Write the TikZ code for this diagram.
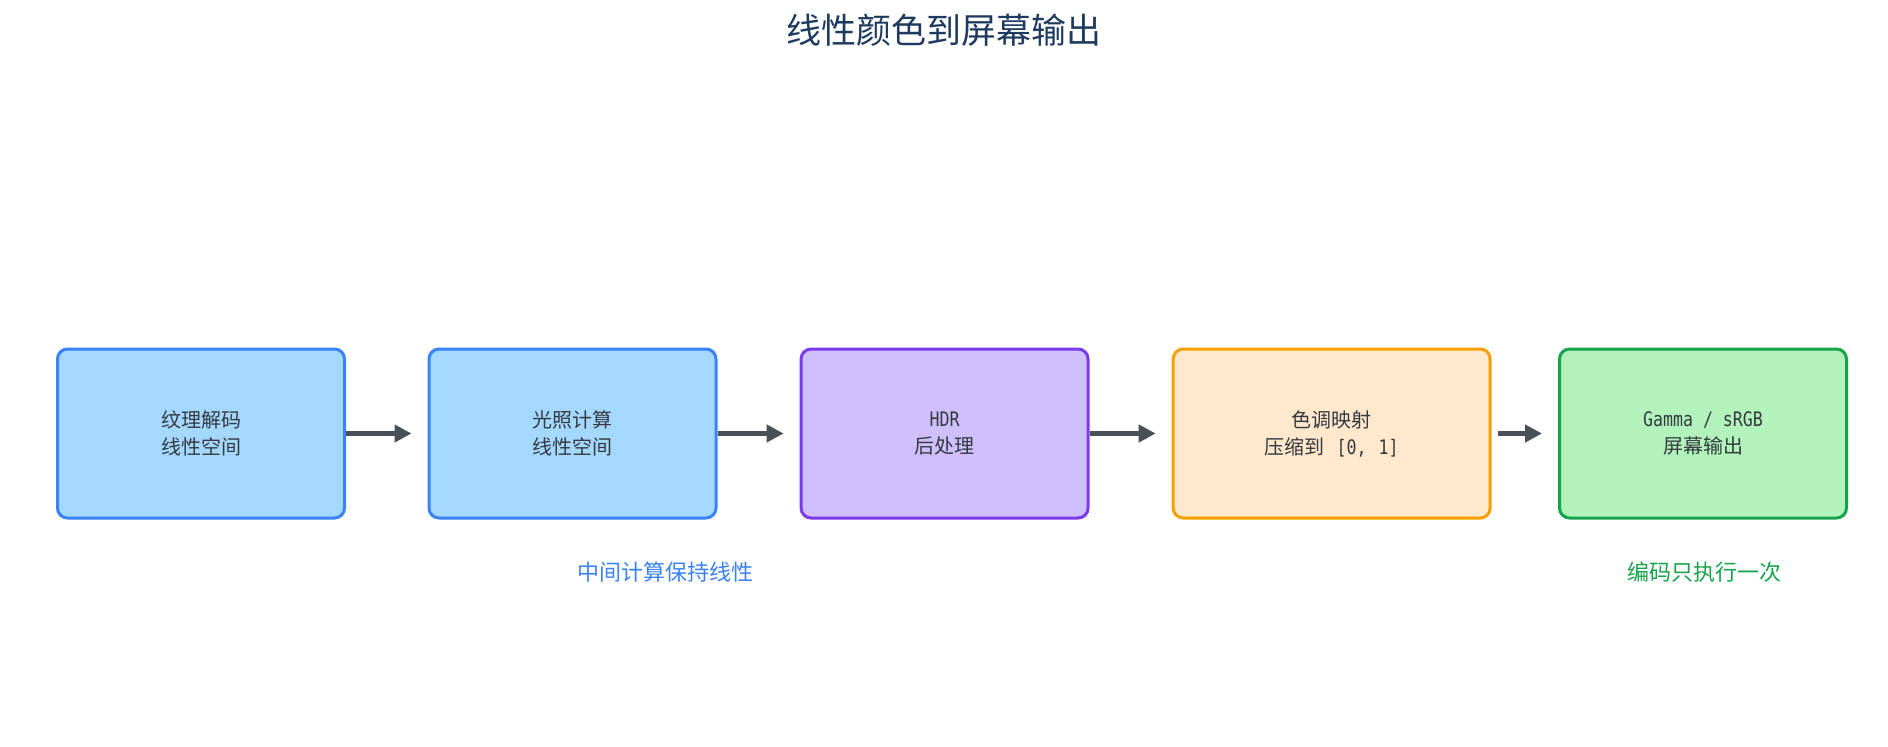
\documentclass[tikz,border=0pt]{standalone}
\usepackage{fontspec}
\setmainfont{Noto Sans CJK SC}
\newfontfamily\monof[FakeStretch=0.83]{DejaVu Sans Mono}
\usetikzlibrary{arrows.meta}
\definecolor{titlec}{HTML}{1E3A5F}
\definecolor{textc}{HTML}{343A40}
\definecolor{arrowc}{HTML}{495057}
\definecolor{bluefill}{HTML}{A5D8FF}
\definecolor{bluedraw}{HTML}{3B82F6}
\definecolor{purpfill}{HTML}{D0BFFF}
\definecolor{purpdraw}{HTML}{7C3AED}
\definecolor{orfill}{HTML}{FFE8CC}
\definecolor{ordraw}{HTML}{F59F00}
\definecolor{grfill}{HTML}{B2F2BB}
\definecolor{grdraw}{HTML}{16A34A}
\tikzset{
  stagebox/.style={draw, line width=3pt, rounded corners=10pt, minimum width=287pt,
    minimum height=169pt, align=center, text=textc, inner sep=0pt,
    font=\fontsize{20}{27}\selectfont},
  flowarrow/.style={arrowc, line width=4.8pt, -{Triangle[length=17pt,width=17pt]}, shorten >=16pt},
  notelabel/.style={font=\fontsize{22}{26}\selectfont, inner sep=0pt},
}
\begin{document}
\begin{tikzpicture}[x=1pt,y=-1pt]
\useasboundingbox[fill=white] (0,0) rectangle (1888,747);
\node[font=\fontsize{35}{40}\selectfont, text=titlec] (title) at (944,30) {线性颜色到屏幕输出};
\node[stagebox, fill=bluefill, draw=bluedraw] (b1) at (201,433.5) {纹理解码\\线性空间};
\node[stagebox, fill=bluefill, draw=bluedraw] (b2) at (572.5,433.5) {光照计算\\线性空间};
\node[stagebox, fill=purpfill, draw=purpdraw] (b3) at (944.6,433.5) {{\monof HDR}\\后处理};
\node[stagebox, fill=orfill, draw=ordraw, minimum width=317pt] (b4) at (1331.7,433.5) {色调映射\\压缩到\hspace{12pt}{\monof [0,\hspace{12pt}1]}};
\node[stagebox, fill=grfill, draw=grdraw] (b5) at (1703,433.5) {{\monof Gamma / sRGB}\\屏幕输出};
\draw[flowarrow] (b1.east) -- (b2.west);
\draw[flowarrow] (b2.east) -- (b3.west);
\draw[flowarrow] (b3.east) -- (b4.west);
\draw[flowarrow, shorten <=6pt] (b4.east) -- (b5.west);
\node[notelabel, text=bluedraw] (n1) at (665,572) {中间计算保持线性};
\node[notelabel, text=grdraw] (n2) at (1704,572) {编码只执行一次};
\end{tikzpicture}
\end{document}
